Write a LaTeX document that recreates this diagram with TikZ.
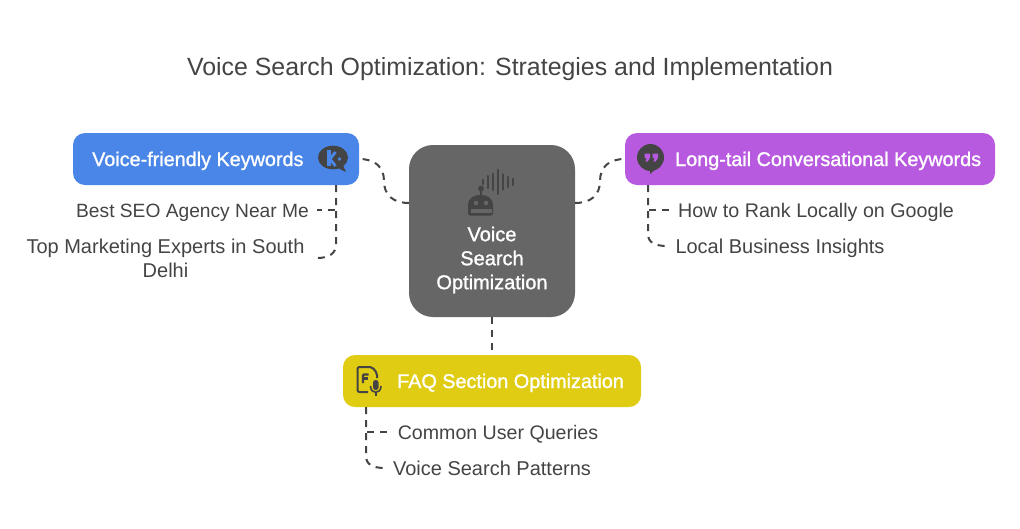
\documentclass[tikz,border=0pt]{standalone}
\usepackage{fontspec}
\setmainfont{Liberation Sans}
\newfontfamily\boxfont[FakeBold=1.2]{Liberation Sans}
\definecolor{inkgrey}{HTML}{444444}
\definecolor{keyblue}{HTML}{4A86E8}
\definecolor{tailpurple}{HTML}{B85AE0}
\definecolor{faqyellow}{HTML}{E0CC12}
\definecolor{hubgrey}{HTML}{666666}
\begin{document}
\begin{tikzpicture}[x=1pt,y=-1pt,
titletext/.style={text=inkgrey,text height=20pt,text depth=2pt,font=\fontsize{24.9}{28}\selectfont},
topicbox/.style={rounded corners=12pt,minimum height=52pt,inner sep=0pt},
topictext/.style={anchor=west,inner sep=0pt,text=white,text height=16pt,text depth=2pt,font=\boxfont\fontsize{19.8}{24}\selectfont},
hubbox/.style={fill=hubgrey,rounded corners=24pt,minimum width=166pt,minimum height=172pt,inner sep=0pt},
hubtext/.style={text=white,align=center,font=\boxfont\fontsize{20}{24}\selectfont},
leafbase/.style={text=inkgrey,align=center,inner xsep=8pt,font=\fontsize{20}{24}\selectfont},
leaftext/.style={leafbase,text height=16pt,text depth=2pt},
link/.style={draw=inkgrey,line width=2pt,dash pattern=on 7pt off 6pt},
icon/.style={fill=inkgrey,draw=none}]
\useasboundingbox (0,0) rectangle (1020,528);
\node[titletext](title) at (510,66){Voice Search Optimization: Strategies and Implementation};
\node[topicbox,fill=keyblue,minimum width=286pt](voice) at (216,159){};
\node[topicbox,fill=tailpurple,minimum width=370pt](tail) at (810,159){};
\node[topicbox,fill=faqyellow,minimum width=298pt](faq) at (492,381){};
\node[hubbox](hub) at (492,231){};
\node[topictext](voicetext) at (92,159){Voice-friendly Keywords};
\node[topictext](tailtext) at (675,159){Long-tail Conversational Keywords};
\node[topictext](faqtext) at (397,381){FAQ Section Optimization};
\node[hubtext](hubtext) at (492,260){Voice\\Search\\Optimization};
\node[leaftext,font=\fontsize{19.2}{24}\selectfont](seo) at (192.5,210){Best SEO Agency Near Me};
\node[leafbase,inner xsep=12pt](experts) at (165.5,258){Top Marketing Experts in South\\Delhi};
\node[leaftext,font=\fontsize{19.7}{24}\selectfont](rank) at (816,210){How to Rank Locally on Google};
\node[leaftext](insights) at (780,246){Local Business Insights};
\node[leaftext,font=\fontsize{19.6}{24}\selectfont](queries) at (498,432){Common User Queries};
\node[leaftext](patterns) at (492,468){Voice Search Patterns};
\coordinate (hubleft) at (409,203);
\coordinate (hubright) at (575,203);
\coordinate (voicestem) at (336,185);
\coordinate (tailstem) at (648,185);
\coordinate (faqstem) at (366,407);
\draw[link] (hubleft) .. controls (393,203) and (384,195) .. (384,181) .. controls (384,167) and (375,159) .. (voice.east);
\draw[link] (hubright) .. controls (591,203) and (600,195) .. (600,181) .. controls (600,167) and (609,159) .. (tail.west);
\draw[link] (hub.south) -- (faq.north);
\draw[link] (voicestem) -- (336,210) -- (seo.east);
\draw[link] (voicestem) -- (336,244) .. controls (336,253) and (330,258) .. (experts.east);
\draw[link] (tailstem) -- (648,210) -- (rank.west);
\draw[link] (tailstem) -- (648,234) .. controls (648,242) and (654,246) .. (insights.west);
\draw[link] (faqstem) -- (366,432) -- (queries.west);
\draw[link] (faqstem) -- (366,456) .. controls (366,464) and (372,468) .. (patterns.west);
% k bubble
\fill[icon] (333,157.5) ellipse (15 and 11.8);
\fill[icon] (336,167) -- (346,172) -- (342,163) -- cycle;
\draw[keyblue,line width=3.2pt] (329,150) -- (329,166);
\draw[keyblue,line width=2.8pt] (335.5,152) -- (330,159) -- (335.5,166);
\fill[keyblue] (339.5,159) circle (1.8);
% quote bubble
\fill[icon] (650.5,157.5) circle (13.5);
\fill[icon] (650,169) -- (650,174) -- (657,168) -- cycle;
\fill[tailpurple] (644.7,153.7) -- (650,153.7) -- (650,158) -- (647.5,161.5) -- (645.5,161.5) -- (646.5,158) -- (644.7,158) -- cycle;
\fill[tailpurple] (652.7,153.7) -- (658,153.7) -- (658,158) -- (655.5,161.5) -- (653.5,161.5) -- (654.5,158) -- (652.7,158) -- cycle;
% faq document
\draw[inkgrey,line width=2pt,rounded corners=2pt] (377,378) -- (377,373) -- (372,367) -- (357.5,367) -- (357.5,392) -- (368,392);
\draw[inkgrey,line width=2.2pt,rounded corners=1pt] (363,383) -- (363,374.5) -- (368.5,374.5);
\draw[inkgrey,line width=2.2pt] (363,378.5) -- (367.5,378.5);
\fill[icon,rounded corners=2.5pt] (373,380) rectangle (378.5,390);
\draw[inkgrey,line width=1.6pt] (370.5,386) .. controls (370.5,394.5) and (381,394.5) .. (381,386);
\draw[inkgrey,line width=1.6pt] (375.7,392) -- (375.7,395.5);
% robot with sound wave
\fill[icon,rounded corners=2pt] (468,215.5) -- (468,206) .. controls (468,199) and (474,195) .. (480.5,195) .. controls (487,195) and (493,199) .. (493,206) -- (493,215.5) -- cycle;
\fill[icon] (481,188.5) circle (3);
\draw[inkgrey,line width=1.5pt] (481,190) -- (481,196);
\fill[hubgrey] (476,203) circle (2.3) (486,203) circle (2.3);
\fill[hubgrey] (471,209) rectangle (491.5,212.7);
\foreach \px/\py in {483/2,488/6,493/8,498/12,503/7.5,508/5,513/3}{
  \draw[inkgrey,line width=2.6pt,line cap=round] (\px,182-\py) -- (\px,182+\py);
}
\end{tikzpicture}
\end{document}
